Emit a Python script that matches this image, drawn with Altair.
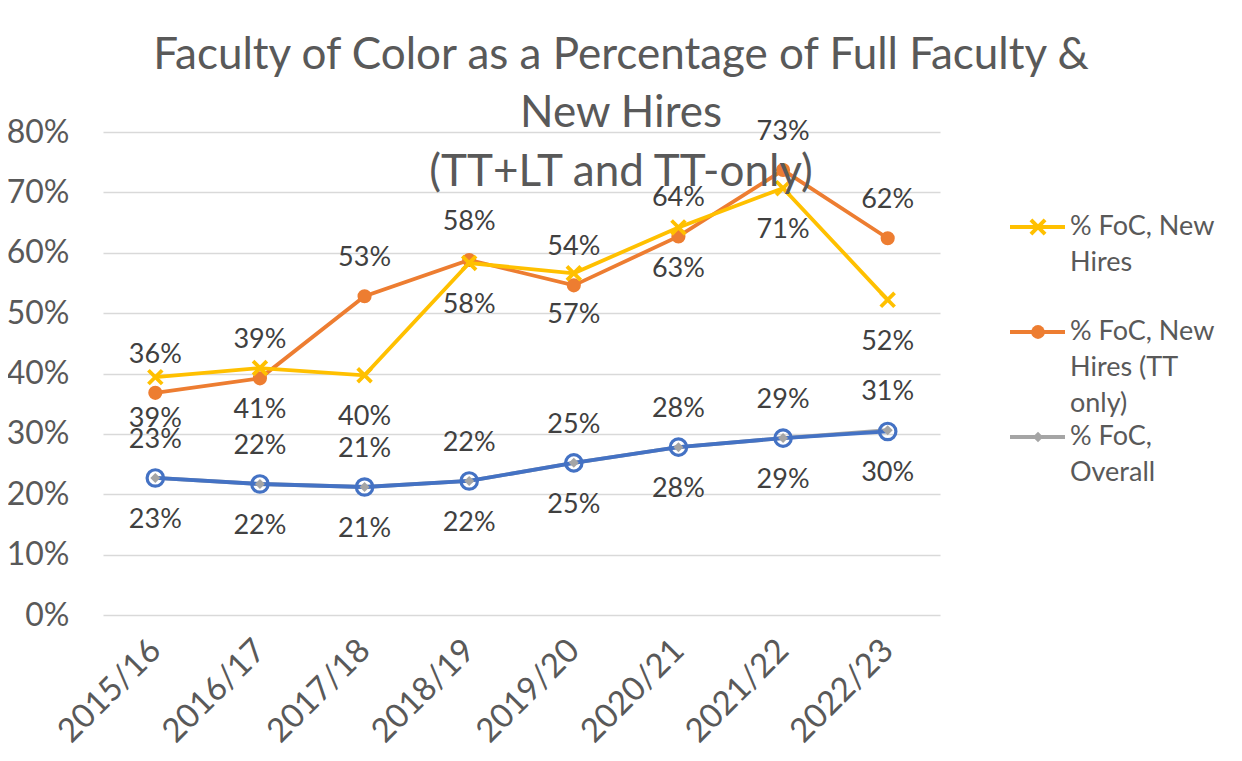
import altair as alt
import pandas as pd

years = ["2015/16", "2016/17", "2017/18", "2018/19", "2019/20", "2020/21", "2021/22", "2022/23"]

new_hires = [0.394, 0.409, 0.397, 0.583, 0.566, 0.642, 0.707, 0.522]
new_hires_tt = [0.368, 0.392, 0.528, 0.588, 0.546, 0.627, 0.737, 0.624]
overall = [0.227, 0.217, 0.212, 0.222, 0.252, 0.278, 0.293, 0.306]
overall_blue = [0.227, 0.217, 0.212, 0.222, 0.252, 0.278, 0.293, 0.304]

new_hires_labels = ["39%", "41%", "40%", "58%", "57%", "63%", "71%", "52%"]
new_hires_tt_labels = ["36%", "39%", "53%", "58%", "54%", "64%", "73%", "62%"]
overall_labels = ["23%", "22%", "21%", "22%", "25%", "28%", "29%", "31%"]
overall_blue_labels = ["23%", "22%", "21%", "22%", "25%", "28%", "29%", "30%"]

series_names = ["% FoC, New Hires", "% FoC, New Hires (TT only)", "% FoC, Overall", "Overall (blue)"]
series_values = [new_hires, new_hires_tt, overall, overall_blue]
series_labels = [new_hires_labels, new_hires_tt_labels, overall_labels, overall_blue_labels]

rows = []
for name, vals, labs in zip(series_names, series_values, series_labels):
    for y, v, l in zip(years, vals, labs):
        rows.append({"year": y, "series": name, "value": v, "label": l})
df = pd.DataFrame(rows)

FONT = "Lato"
YELLOW = "#FFC000"
ORANGE = "#ED7D31"
GRAY = "#A5A5A5"
BLUE = "#4472C4"
TEXT = "#595959"
LABEL = "#404040"

PLOT_W, PLOT_H = 837, 483

base = alt.Chart(df).encode(
    x=alt.X("year:N", sort=years, title=None,
            scale=alt.Scale(type="point", padding=0.5),
            axis=alt.Axis(labelAngle=-45, labelFont=FONT, labelFontSize=33,
                          labelColor=TEXT, ticks=False, domain=False, grid=False,
                          labelPadding=30, labelAlign="right", labelBaseline="middle")),
    y=alt.Y("value:Q", title=None,
            scale=alt.Scale(domain=[0, 0.8], nice=False),
            axis=alt.Axis(format=".0%", values=[0, 0.1, 0.2, 0.3, 0.4, 0.5, 0.6, 0.7, 0.8],
                          labelFont=FONT, labelFontSize=32, labelColor=TEXT,
                          ticks=False, domain=False, gridColor="#D9D9D9", gridWidth=1.3,
                          labelPadding=34)),
)

def sel(name):
    return base.transform_filter(alt.datum.series == name)

X_PATH = "M-1,-1L1,1M-1,1L1,-1"

layers = [
    sel(series_names[2]).mark_line(color=GRAY, strokeWidth=3.8),
    sel(series_names[3]).mark_line(color=BLUE, strokeWidth=3.8),
    sel(series_names[3]).mark_point(shape="circle", filled=False, stroke=BLUE, strokeWidth=3.2, size=270, opacity=1),
    sel(series_names[2]).mark_point(shape="diamond", filled=True, color=GRAY, size=100, opacity=1),
    sel(series_names[1]).mark_line(color=ORANGE, strokeWidth=3.8),
    sel(series_names[1]).mark_point(shape="circle", filled=True, color=ORANGE, size=200, opacity=1),
    sel(series_names[0]).mark_line(color=YELLOW, strokeWidth=3.8),
    sel(series_names[0]).mark_point(shape=X_PATH, filled=False, stroke=YELLOW, strokeWidth=3.8, size=190, opacity=1),
]

label_style = dict(font=FONT, fontSize=27, color=LABEL, baseline="middle", align="center")
layers += [
    sel(series_names[1]).mark_text(dy=-38, **label_style).encode(text="label:N"),
    sel(series_names[0]).mark_text(dy=42, **label_style).encode(text="label:N"),
    sel(series_names[2]).mark_text(dy=-38, **label_style).encode(text="label:N"),
    sel(series_names[3]).mark_text(dy=42, **label_style).encode(text="label:N"),
]

dummy = alt.Chart(pd.DataFrame({"k": [0]}))

# Title (overlaid on the plot as in the original)
title_lines = ["Faculty of Color as a Percentage of Full Faculty &", "New Hires", "(TT+LT and TT-only)"]
title_y = [-76, -18, 41]
for line, ty in zip(title_lines, title_y):
    layers.append(dummy.mark_text(text=line, font=FONT, fontWeight=400, fontSize=44, color=TEXT,
                                  align="center", baseline="middle")
                  .encode(x=alt.value(518), y=alt.value(ty)))

# Legend
legend_items = [
    (YELLOW, "x", ["% FoC, New", "Hires"], 95),
    (ORANGE, "circle", ["% FoC, New", "Hires (TT", "only)"], 200),
    (GRAY, "diamond", ["%  FoC,", "Overall"], 305),
]
for color, marker, lines, ly in legend_items:
    layers.append(dummy.mark_rule(color=color, strokeWidth=3.8)
                  .encode(x=alt.value(907), x2=alt.value(962), y=alt.value(ly)))
    if marker == "x":
        layers.append(dummy.mark_point(shape=X_PATH, filled=False, stroke=color, strokeWidth=4,
                                       size=200, opacity=1)
                      .encode(x=alt.value(935), y=alt.value(ly)))
    elif marker == "circle":
        layers.append(dummy.mark_point(shape="circle", filled=True, color=color, size=190, opacity=1)
                      .encode(x=alt.value(935), y=alt.value(ly)))
    else:
        layers.append(dummy.mark_point(shape="diamond", filled=True, color=color, size=110, opacity=1)
                      .encode(x=alt.value(935), y=alt.value(ly)))
    for j, line in enumerate(lines):
        layers.append(dummy.mark_text(text=line, font=FONT, fontSize=27, color=TEXT,
                                      align="left", baseline="middle")
                      .encode(x=alt.value(967), y=alt.value(ly + 36 * j)))

# chart border (left edge)
layers.append(dummy.mark_rule(color="#D9D9D9", strokeWidth=1.5)
              .encode(x=alt.value(-100), x2=alt.value(-100), y=alt.value(-132), y2=alt.value(621)))

chart = alt.layer(*layers).properties(
    width=PLOT_W, height=PLOT_H,
    autosize=alt.AutoSizeParams(type="none"),
    padding={"left": 95, "top": 124, "right": 294, "bottom": 138},
    view=alt.ViewBackground(stroke=None, strokeWidth=0),
).configure_view(strokeWidth=0, stroke=None).configure(background="white")

chart.save("out.html", embed_options={"renderer": "svg", "actions": False})
